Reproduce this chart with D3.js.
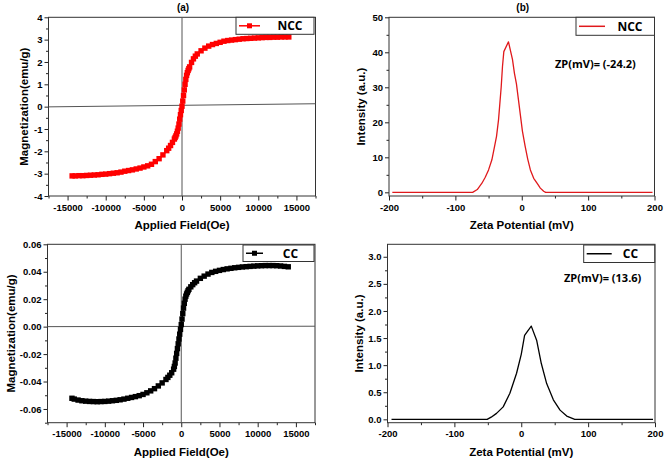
<!DOCTYPE html>
<html><head><meta charset="utf-8">
<script src="https://cdn.jsdelivr.net/npm/d3@7"></script>
<style>
body{margin:0;background:#fff}
svg{display:block}
text{font-family:"Liberation Sans",Arial,sans-serif;font-weight:bold;fill:#000}
</style>
</head><body>
<svg id="chart" width="667" height="463"></svg>
<script>
// ---------- DATA ----------
// (a) NCC magnetization loop: [field Oe, magnetization emu/g]
const nccLoop = [[-14400,-3.10],[-14000,-3.10],[-13500,-3.09],[-13000,-3.09],[-12500,-3.08],[-12000,-3.07],[-11500,-3.06],[-11000,-3.05],[-10500,-3.03],[-10000,-3.02],[-9500,-3.00],[-9000,-2.98],[-8500,-2.96],[-8000,-2.93],[-7500,-2.89],[-7000,-2.86],[-6500,-2.83],[-6000,-2.79],[-5500,-2.75],[-5000,-2.70],[-4500,-2.65],[-4000,-2.58],[-3500,-2.46],[-3000,-2.33],[-2500,-2.16],[-2000,-1.97],[-1750,-1.86],[-1500,-1.74],[-1250,-1.60],[-1000,-1.45],[-900,-1.38],[-800,-1.31],[-700,-1.22],[-600,-1.10],[-500,-0.96],[-400,-0.78],[-300,-0.56],[-200,-0.36],[-100,-0.17],[0,0.02],[100,0.25],[200,0.50],[300,0.75],[400,1.00],[500,1.22],[600,1.40],[700,1.52],[800,1.62],[900,1.70],[1000,1.78],[1250,1.98],[1500,2.14],[1750,2.26],[2000,2.36],[2500,2.50],[3000,2.62],[3500,2.71],[4000,2.78],[4500,2.83],[5000,2.88],[5500,2.93],[6000,2.96],[6500,2.98],[7000,3.00],[7500,3.02],[8000,3.04],[8500,3.05],[9000,3.06],[9500,3.07],[10000,3.08],[10500,3.09],[11000,3.10],[11500,3.10],[12000,3.11],[12500,3.11],[13000,3.12],[13500,3.12],[14000,3.12]];
// (c) CC magnetization loop
const ccLoop = [[-14300,-0.0522],[-14000,-0.0528],[-13500,-0.0535],[-13000,-0.0540],[-12500,-0.0543],[-12000,-0.0545],[-11500,-0.0546],[-11000,-0.0547],[-10500,-0.0546],[-10000,-0.0545],[-9500,-0.0543],[-9000,-0.0540],[-8500,-0.0537],[-8000,-0.0533],[-7500,-0.0528],[-7000,-0.0522],[-6500,-0.0516],[-6000,-0.0510],[-5500,-0.0503],[-5000,-0.0494],[-4500,-0.0482],[-4000,-0.0468],[-3500,-0.0452],[-3000,-0.0432],[-2500,-0.0410],[-2000,-0.0385],[-1750,-0.0370],[-1500,-0.0354],[-1250,-0.0336],[-1000,-0.0310],[-900,-0.0290],[-800,-0.0265],[-700,-0.0230],[-600,-0.0195],[-500,-0.0160],[-400,-0.0125],[-300,-0.0090],[-200,-0.0055],[-100,-0.0020],[0,0.0015],[100,0.0055],[200,0.0095],[300,0.0135],[400,0.0170],[500,0.0200],[600,0.0222],[700,0.0238],[800,0.0250],[900,0.0262],[1000,0.0272],[1250,0.0290],[1500,0.0306],[1750,0.0320],[2000,0.0332],[2500,0.0352],[3000,0.0368],[3500,0.0383],[4000,0.0395],[4500,0.0403],[5000,0.0410],[5500,0.0416],[6000,0.0421],[6500,0.0425],[7000,0.0429],[7500,0.0432],[8000,0.0435],[8500,0.0437],[9000,0.0439],[9500,0.0441],[10000,0.0443],[10500,0.0444],[11000,0.0445],[11500,0.0445],[12000,0.0445],[12500,0.0444],[13000,0.0442],[13500,0.0439],[14000,0.0436]];
// (b) NCC zeta potential distribution: [mV, intensity]
const nccZeta = [[-195,0],[-74,0],[-67,0.8],[-60,2.6],[-55,4.3],[-50,6.4],[-45,9.3],[-42,12.1],[-38,16],[-35,20.7],[-31,30],[-29,36],[-27,40.2],[-20,43.0],[-14,38],[-11,34],[-8,31],[-5,26.5],[-2,22],[1,17.5],[5,13.3],[9,9.5],[13,6.4],[18,4.0],[23,2.6],[28,1.2],[33,0.3],[36,0],[197,0]];
// (d) CC zeta potential distribution
const ccZeta = [[-194,0],[-51,0],[-45,0.04],[-37,0.11],[-27,0.23],[-17,0.48],[-7,0.85],[0,1.2],[5,1.55],[9,1.62],[15,1.72],[23,1.46],[30,1.03],[38,0.66],[48,0.36],[58,0.17],[68,0.06],[80,0],[197,0]];

// ticks
const fieldTicks = [-15000,-10000,-5000,0,5000,10000,15000];
const fieldTickLabels = ["-15000","-10000","-5000","0","5000","10000","15000"];
const fieldMinor = [-17500,-12500,-7500,-2500,2500,7500,12500,17500];
const nccMagTicks = [-4,-3,-2,-1,0,1,2,3,4];
const nccMagLabels = ["-4","-3","-2","-1","0","1","2","3","4"];
const nccMagMinor = [-3.5,-2.5,-1.5,-0.5,0.5,1.5,2.5,3.5];
const ccMagTicks = [-0.06,-0.04,-0.02,0,0.02,0.04,0.06];
const ccMagLabels = ["-0.06","-0.04","-0.02","0.00","0.02","0.04","0.06"];
const ccMagMinor = [-0.07,-0.05,-0.03,-0.01,0.01,0.03,0.05];
const zetaTicks = [-200,-100,0,100,200];
const zetaTickLabels = ["-200","-100","0","100","200"];
const zetaMinor = [-150,-50,50,150];
const nccIntTicks = [0,10,20,30,40,50];
const nccIntLabels = ["0","10","20","30","40","50"];
const nccIntMinor = [5,15,25,35,45];
const ccIntTicks = [0,0.5,1.0,1.5,2.0,2.5,3.0];
const ccIntLabels = ["0.0","0.5","1.0","1.5","2.0","2.5","3.0"];
const ccIntMinor = [0.25,0.75,1.25,1.75,2.25,2.75];

// ---------- DRAW ----------
const svg = d3.select("#chart");
const FONT = '"Liberation Sans",Arial,sans-serif';

function drawPanel(p){
  const x = d3.scaleLinear().domain(p.xDomain).range([p.left, p.right]);
  const y = d3.scaleLinear().domain(p.yDomain).range([p.bottom, p.top]);
  const g = svg.append("g");

  // minor ticks
  g.append("g").attr("transform",`translate(0,${p.bottom})`)
    .call(d3.axisBottom(x).tickValues(p.xMinor).tickSize(2.5).tickFormat(""))
    .call(s=>s.select(".domain").remove());
  g.append("g").attr("transform",`translate(${p.left},0)`)
    .call(d3.axisLeft(y).tickValues(p.yMinor).tickSize(2.5).tickFormat(""))
    .call(s=>s.select(".domain").remove());
  // major ticks
  g.append("g").attr("transform",`translate(0,${p.bottom})`)
    .call(d3.axisBottom(x).tickValues(p.xTicks).tickSize(4.5).tickPadding(3.5)
      .tickFormat((d,i)=>p.xLabels[i]))
    .call(s=>{s.select(".domain").remove();
      s.selectAll("text").style("font-size","9.5px").style("font-family",FONT).style("font-weight","bold");});
  g.append("g").attr("transform",`translate(${p.left},0)`)
    .call(d3.axisLeft(y).tickValues(p.yTicks).tickSize(4).tickPadding(2)
      .tickFormat((d,i)=>p.yLabels[i]))
    .call(s=>{s.select(".domain").remove();
      s.selectAll("text").style("font-size","9.5px").style("font-family",FONT).style("font-weight","bold");});
  g.selectAll(".tick line").attr("stroke","#222");

  // frame
  g.append("rect").attr("x",p.left).attr("y",p.top)
    .attr("width",p.right-p.left).attr("height",p.bottom-p.top)
    .attr("fill","none").attr("stroke","#333").attr("stroke-width",1);

  // zero reference lines
  if(p.zeroLines){
    g.append("line").attr("x1",x(0)).attr("x2",x(0)).attr("y1",p.top).attr("y2",p.bottom)
      .attr("stroke","#555").attr("stroke-width",1);
    g.append("line").attr("x1",p.left).attr("x2",p.right)
      .attr("y1",y(p.zeroLines[0])).attr("y2",y(p.zeroLines[1]))
      .attr("stroke","#555").attr("stroke-width",1);
  }

  // data
  const line = d3.line().x(d=>x(d[0])).y(d=>y(d[1]));
  g.append("path").datum(p.data).attr("d",line).attr("fill","none")
    .attr("stroke",p.color).attr("stroke-width",p.markers?1.5:1.3).attr("stroke-linejoin","round");
  if(p.markers){
    g.selectAll("rect.m").data(p.data).enter().append("rect").attr("class","m")
      .attr("x",d=>x(d[0])-2.7).attr("y",d=>y(d[1])-2.7)
      .attr("width",5.4).attr("height",5.4).attr("fill",p.color);
  }

  // title
  if(p.title){
    g.append("text").attr("x",(p.left+p.right)/2+1).attr("y",p.top-6)
      .attr("text-anchor","middle").style("font-size","10px").text(p.title);
  }
  // axis titles
  g.append("text").attr("x",(p.left+p.right)/2).attr("y",p.bottom+33)
    .attr("text-anchor","middle").style("font-size","11.5px").text(p.xTitle);
  g.append("text").attr("transform",`translate(${p.yTitleX},${(p.top+p.bottom)/2}) rotate(-90)`)
    .attr("text-anchor","middle").style("font-size","11.5px").text(p.yTitle);

  // legend
  const L = p.legend;
  g.append("rect").attr("x",L.x).attr("y",L.y).attr("width",L.w).attr("height",L.h)
    .attr("fill","#fff").attr("stroke","#333").attr("stroke-width",1);
  g.append("line").attr("x1",L.x+3).attr("x2",L.x+L.lw).attr("y1",L.y+L.h/2).attr("y2",L.y+L.h/2)
    .attr("stroke",p.color).attr("stroke-width",1.5);
  if(p.markers){
    g.append("rect").attr("x",L.x+3+(L.lw-3)/2-2.5).attr("y",L.y+L.h/2-2.5)
      .attr("width",5).attr("height",5).attr("fill",p.color);
  }
  g.append("text").attr("x",L.tx).attr("y",L.y+L.h/2+4.5).attr("text-anchor","middle")
    .style("font-size","12px").style("font-family",'"Open Sans","Liberation Sans",sans-serif').text(L.text);

  // annotation
  if(p.note){
    g.append("text").attr("x",p.note.x).attr("y",p.note.y).style("font-size","11px")
      .style("font-family",'"Open Sans","Liberation Sans",sans-serif').text(p.note.text);
  }
}

drawPanel({
  left:48.5,right:315.5,top:17.3,bottom:196,
  xDomain:[-17500,17500], yDomain:[-4,4],
  xTicks:fieldTicks, xLabels:fieldTickLabels, xMinor:fieldMinor,
  yTicks:nccMagTicks, yLabels:nccMagLabels, yMinor:nccMagMinor,
  data:nccLoop, color:"#ff0000", markers:true, zeroLines:[-0.01,0.13],
  title:"(a)", xTitle:"Applied Field(Oe)", yTitle:"Magnetization(emu/g)", yTitleX:28,
  legend:{x:236,y:17.3,w:78,h:17,lw:24,tx:290,text:"NCC"}
});
drawPanel({
  left:389,right:654.5,top:17.3,bottom:196,
  xDomain:[-200,200], yDomain:[-1.05,50],
  xTicks:zetaTicks, xLabels:zetaTickLabels, xMinor:zetaMinor,
  yTicks:nccIntTicks, yLabels:nccIntLabels, yMinor:nccIntMinor,
  data:nccZeta, color:"#e0191c", markers:false,
  title:"(b)", xTitle:"Zeta Potential (mV)", yTitle:"Intensity (a.u.)", yTitleX:365,
  legend:{x:576,y:17.3,w:78.5,h:18,lw:29,tx:630,text:"NCC"},
  note:{x:555,y:68,text:"ZP(mV)= (-24.2)"}
});
drawPanel({
  left:47.5,right:315,top:244.3,bottom:422.7,
  xDomain:[-17500,17500], yDomain:[-0.07,0.06],
  xTicks:fieldTicks, xLabels:fieldTickLabels, xMinor:fieldMinor,
  yTicks:ccMagTicks, yLabels:ccMagLabels, yMinor:ccMagMinor,
  data:ccLoop, color:"#000000", markers:true, zeroLines:[0,0.0003],
  title:null, xTitle:"Applied Field(Oe)", yTitle:"Magnetization(emu/g)", yTitleX:15,
  legend:{x:243,y:245,w:71,h:16.5,lw:20,tx:290.5,text:"CC"}
});
drawPanel({
  left:387.5,right:655,top:244.3,bottom:422.7,
  xDomain:[-200,200], yDomain:[-0.062,3.23],
  xTicks:zetaTicks, xLabels:zetaTickLabels, xMinor:zetaMinor,
  yTicks:ccIntTicks, yLabels:ccIntLabels, yMinor:ccIntMinor,
  data:ccZeta, color:"#000000", markers:false,
  title:null, xTitle:"Zeta Potential (mV)", yTitle:"Intensity (a.u.)", yTitleX:363,
  legend:{x:583.7,y:245,w:71,h:17.5,lw:28,tx:630.5,text:"CC"},
  note:{x:564,y:281.5,text:"ZP(mV)= (13.6)"}
});
</script>
</body></html>
